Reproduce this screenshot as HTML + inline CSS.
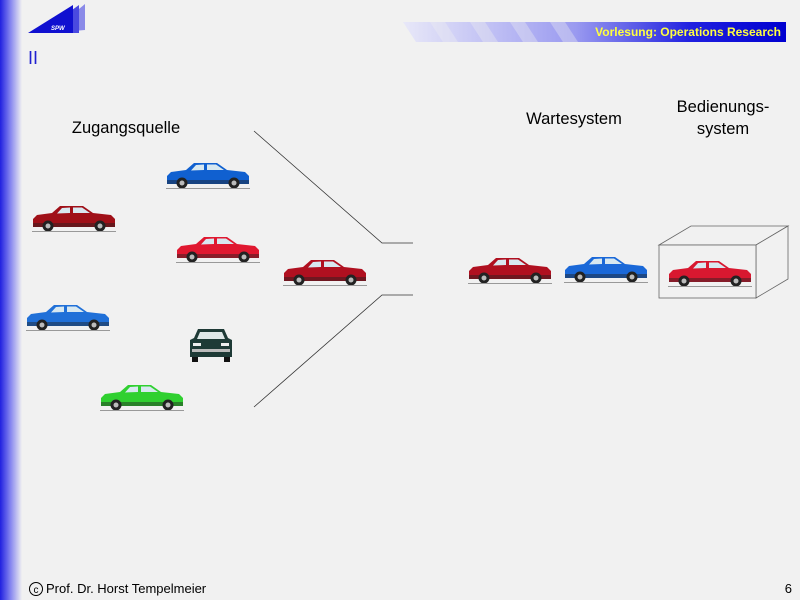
<!DOCTYPE html>
<html><head><meta charset="utf-8"><style>
html,body{margin:0;padding:0;background:#f1f1f1;}
svg{display:block}
text{font-family:"Liberation Sans",sans-serif;}
</style></head><body>
<svg width="800" height="600" viewBox="0 0 800 600" xmlns="http://www.w3.org/2000/svg">
<defs>
<linearGradient id="lg" x1="0" x2="1" y1="0" y2="0">
<stop offset="0" stop-color="#2020e0"/><stop offset="0.5" stop-color="#8a8af0"/><stop offset="1" stop-color="#f1f1f1"/>
</linearGradient>
<linearGradient id="hb" x1="0" x2="1" y1="0" y2="0">
<stop offset="0" stop-color="#e8e8f8"/><stop offset="0.45" stop-color="#9a9af0"/><stop offset="0.75" stop-color="#2020e0"/><stop offset="1" stop-color="#0000d0"/>
</linearGradient>
<g id="car">
<path d="M1,13 L5,9 L20,7 L28,0 L51,0 L61,7 L79,9 L83,13 L83,21 L1,21 Z" fill="currentColor"/>
<path d="M30,2 L38,1.5 L38,7 L25,7.5 Z M41,1.5 L50,1.5 L58,7 L41,7 Z" fill="#d8e8f0"/>
<rect x="1" y="17" width="82" height="4" fill="#222" opacity="0.45"/>
<circle cx="16" cy="20" r="5.5" fill="#222"/><circle cx="16" cy="20" r="2.5" fill="#bbb"/>
<circle cx="68" cy="20" r="5.5" fill="#222"/><circle cx="68" cy="20" r="2.5" fill="#bbb"/>
<line x1="0" y1="25.5" x2="84" y2="25.5" stroke="#999" stroke-width="1"/>
</g>
</defs>
<rect x="0" y="0" width="22" height="600" fill="url(#lg)"/>
<!-- logo -->
<polygon points="50,33 85,4 85,30" fill="#8a8ae8"/>
<polygon points="40,33 79,5 79,33" fill="#4a4ae0"/>
<polygon points="28,33 73,5 73,33" fill="#1010d0"/>
<text x="51" y="30" font-size="6" fill="#fff" font-style="italic" font-weight="bold">SPW</text>
<!-- header bar -->
<polygon points="403,22 786,22 786,42 416,42" fill="url(#hb)"/>
<g fill="#f1f1f1" opacity="0.35">
<polygon points="430,22 445,22 458,42 443,42"/>
<polygon points="470,22 485,22 498,42 483,42"/>
<polygon points="510,22 525,22 538,42 523,42"/>
<polygon points="550,22 565,22 578,42 563,42"/>
</g>
<text x="781" y="36" font-size="12" font-weight="bold" fill="#ffff40" text-anchor="end">Vorlesung: Operations Research</text>
<text x="28" y="64" font-size="18" fill="#2020d0">II</text>
<!-- labels -->
<text x="126" y="133" font-size="16.5" text-anchor="middle" fill="#000">Zugangsquelle</text>
<text x="574" y="124" font-size="16.5" text-anchor="middle" fill="#000">Wartesystem</text>
<text x="723" y="112" font-size="16.5" text-anchor="middle" fill="#000">Bedienungs-</text>
<text x="723" y="134" font-size="16.5" text-anchor="middle" fill="#000">system</text>
<!-- lines -->
<polyline points="254,131 382,243 413,243" fill="none" stroke="#333" stroke-width="0.8"/>
<polyline points="254,407 382,295 413,295" fill="none" stroke="#333" stroke-width="0.8"/>
<!-- box -->
<polygon points="659,245 691,226 788,226 756,245" fill="#f1f1f1" stroke="#666" stroke-width="0.8"/>
<polygon points="756,245 788,226 788,279 756,298" fill="#f1f1f1" stroke="#666" stroke-width="0.8"/>
<rect x="659" y="245" width="97" height="53" fill="#f1f1f1" stroke="#666" stroke-width="0.8"/>
<!-- cars -->
<use href="#car" x="166" y="163" color="#1060d0"/>
<use href="#car" x="32" y="206" color="#a01018"/>
<use href="#car" x="176" y="237" color="#e01830"/>
<use href="#car" x="283" y="260" color="#b01020"/>
<use href="#car" x="26" y="305" color="#2070d8"/>
<use href="#car" x="100" y="385" color="#30d030"/>
<use href="#car" x="468" y="258" color="#b01020"/>
<use href="#car" x="564" y="257" color="#1a68d8"/>
<use href="#car" x="668" y="261" color="#d81830"/>
<!-- front car -->
<g transform="translate(190,329)">
<path d="M8,0 L34,0 L38,9 L42,11 L42,28 L0,28 L0,11 L4,9 Z" fill="#1e3a36"/>
<path d="M10,3 L32,3 L35,10 L7,10 Z" fill="#dfe8e8"/>
<rect x="3" y="14" width="8" height="3" fill="#eee"/><rect x="31" y="14" width="8" height="3" fill="#eee"/>
<rect x="2" y="20" width="38" height="3" fill="#bbb"/>
<rect x="2" y="28" width="6" height="5" fill="#111"/><rect x="34" y="28" width="6" height="5" fill="#111"/>
</g>
<!-- footer -->
<circle cx="36" cy="589" r="6.5" fill="none" stroke="#000" stroke-width="1"/>
<text x="36" y="593" font-size="10" text-anchor="middle">c</text>
<text x="46" y="593" font-size="13">Prof. Dr. Horst Tempelmeier</text>
<text x="792" y="593" font-size="13" text-anchor="end">6</text>
</svg>
</body></html>
